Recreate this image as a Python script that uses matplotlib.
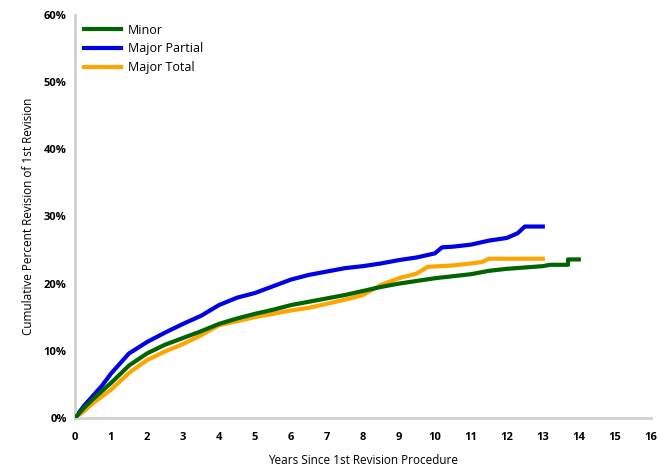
import matplotlib.pyplot as plt

# Data (years since 1st revision, cumulative % revision)
minor_x = [0, 0.25, 0.5, 0.75, 1, 1.5, 2, 2.5, 3, 3.5, 4, 4.5, 5, 5.5, 6, 6.5, 7, 7.5, 8, 8.5, 9, 9.5, 10, 10.5, 11, 11.5, 12, 12.5, 13, 13.2, 13.7, 13.7, 14]
minor_y = [0, 1.5, 2.8, 4.0, 5.2, 7.8, 9.6, 10.9, 11.9, 12.9, 14.0, 14.8, 15.5, 16.1, 16.8, 17.3, 17.8, 18.3, 18.9, 19.5, 20.0, 20.4, 20.8, 21.1, 21.4, 21.9, 22.2, 22.4, 22.6, 22.8, 22.8, 23.6, 23.6]

partial_x = [0, 0.25, 0.5, 0.75, 1, 1.5, 2, 2.5, 3, 3.5, 4, 4.5, 5, 5.5, 6, 6.5, 7, 7.5, 8, 8.5, 9, 9.5, 10, 10.2, 10.5, 11, 11.5, 12, 12.3, 12.5, 13]
partial_y = [0, 1.8, 3.3, 4.8, 6.6, 9.6, 11.3, 12.7, 14.0, 15.2, 16.8, 17.9, 18.6, 19.6, 20.6, 21.3, 21.8, 22.3, 22.6, 23.0, 23.5, 23.9, 24.5, 25.4, 25.5, 25.8, 26.4, 26.8, 27.5, 28.5, 28.5]

total_x = [0, 0.25, 0.5, 0.75, 1, 1.5, 2, 2.5, 3, 3.5, 4, 4.5, 5, 5.5, 6, 6.5, 7, 7.5, 8, 8.5, 9, 9.5, 9.8, 10.5, 11, 11.3, 11.5, 13]
total_y = [0, 1.0, 2.2, 3.2, 4.2, 6.7, 8.6, 9.9, 11.0, 12.3, 13.8, 14.4, 15.0, 15.5, 16.0, 16.4, 17.0, 17.6, 18.3, 19.8, 20.8, 21.5, 22.5, 22.7, 23.0, 23.2, 23.7, 23.7]

x_ticks = list(range(0, 17))
y_ticks = [0, 10, 20, 30, 40, 50, 60]

plt.rcParams['font.family'] = ['Open Sans', 'DejaVu Sans']

fig = plt.figure(figsize=(6.58, 4.68), dpi=100)
ax = fig.add_axes([0.114, 0.107, 0.875, 0.861])

ax.plot(minor_x, minor_y, color='#006400', linewidth=3, label='Minor', zorder=3)
ax.plot(partial_x, partial_y, color='#0000e6', linewidth=3, label='Major Partial', zorder=2)
ax.plot(total_x, total_y, color='#ffa500', linewidth=3, label='Major Total', zorder=2)

ax.set_xlim(0, 16)
ax.set_ylim(0, 60)
ax.set_xticks(x_ticks)
ax.set_yticks(y_ticks)
ax.set_yticklabels([f'{v}%' for v in y_ticks])
ax.tick_params(length=0, labelsize=8, pad=6)
ax.tick_params(axis='x', pad=10)
for lbl in ax.get_xticklabels() + ax.get_yticklabels():
    lbl.set_fontweight('bold')

for s in ['top', 'right']:
    ax.spines[s].set_visible(False)
for s in ['left', 'bottom']:
    ax.spines[s].set_color('#d0d0d0')
    ax.spines[s].set_linewidth(2)

ax.set_xlabel('Years Since 1st Revision Procedure', fontsize=8.5, labelpad=8)
ax.set_ylabel('Cumulative Percent Revision of 1st Revision', fontsize=8.5, labelpad=6)

ax.legend(loc='upper left', bbox_to_anchor=(0.0, 1.0), frameon=False, fontsize=9,
          handlelength=3, handletextpad=0.5, labelspacing=0.45, borderaxespad=0.3)

plt.savefig('out.png', dpi=100)
